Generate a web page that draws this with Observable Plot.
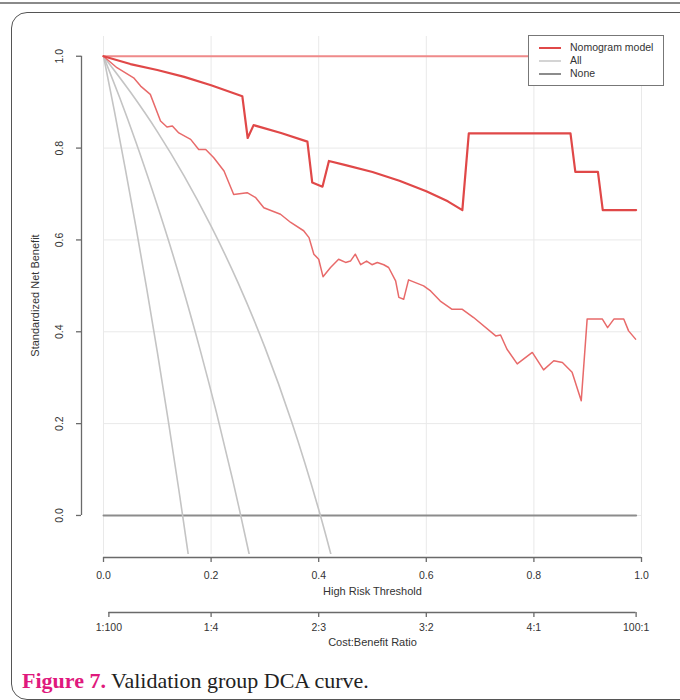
<!DOCTYPE html>
<html>
<head>
<meta charset="utf-8">
<script src="https://cdn.jsdelivr.net/npm/d3@7"></script>
<script src="https://cdn.jsdelivr.net/npm/@observablehq/plot@0.6"></script>
<style>
  html, body { margin: 0; padding: 0; background: #fff; width: 680px; height: 700px; overflow: hidden; }
  #page { position: relative; width: 680px; height: 700px; }
  #topline { position: absolute; left: 0; top: 2px; width: 680px; height: 0; border-top: 2px solid #8a8a8a; }
  #frame { position: absolute; left: 11px; top: 12px; width: 720px; height: 686px; border: 1px solid #555; border-radius: 16px; }
  #chart { position: absolute; left: 0; top: 0; }
  #legend { position: absolute; left: 528px; top: 35px; width: 134px; height: 49px; border: 1px solid #777; background: #fff;
            font-family: "Liberation Sans", Arial, sans-serif; font-size: 10.5px; color: #333; }
  .lg-row { position: absolute; left: 0; height: 12px; }
  .lg-line { position: absolute; left: 10px; top: 6px; width: 22px; height: 0; }
  .lg-text { position: absolute; left: 41px; top: 0px; white-space: nowrap; }
  #caption { position: absolute; left: 22px; top: 668px; font-family: "Liberation Serif", "Times New Roman", serif; font-size: 22px; color: #222; white-space: nowrap; }
  #caption b { color: #e0197d; }
</style>
</head>
<body>
<div id="page">
  <div id="topline"></div>
  <div id="frame"></div>
  <div id="chart"></div>
  <div id="legend"></div>
  <div id="caption"><b>Figure 7.</b> Validation group DCA curve.</div>
</div>
<script>
// ---- data ----
const xTicks = [0, 0.2, 0.4, 0.6, 0.8, 1.0];
const yTicks = [0, 0.2, 0.4, 0.6, 0.8, 1.0];
const cbTicks = [0.01, 0.2, 0.4, 0.6, 0.8, 0.99];
const cbLabels = ["1:100", "1:4", "2:3", "3:2", "4:1", "100:1"];

// Nomogram model (estimate)
const modelT = [0, 0.05, 0.10, 0.15, 0.20, 0.258, 0.268, 0.279, 0.33, 0.379, 0.388, 0.407, 0.419, 0.45, 0.50, 0.55, 0.60, 0.64, 0.667, 0.679, 0.868, 0.877, 0.919, 0.928, 0.99];
const modelV = [1.0, 0.983, 0.970, 0.955, 0.937, 0.913, 0.822, 0.850, 0.833, 0.814, 0.725, 0.716, 0.772, 0.763, 0.748, 0.729, 0.706, 0.684, 0.665, 0.832, 0.832, 0.748, 0.748, 0.665, 0.665];

// Nomogram model lower confidence bound
const lowerT = [0, 0.025, 0.056, 0.069, 0.087, 0.106, 0.118, 0.128, 0.140, 0.162, 0.177, 0.190, 0.205, 0.224, 0.242, 0.267, 0.283, 0.298, 0.329, 0.348, 0.372, 0.382, 0.391, 0.400, 0.408, 0.422, 0.437, 0.450, 0.459, 0.468, 0.478, 0.489, 0.499, 0.509, 0.521, 0.530, 0.543, 0.549, 0.558, 0.567, 0.595, 0.608, 0.626, 0.648, 0.667, 0.688, 0.729, 0.738, 0.750, 0.769, 0.797, 0.818, 0.837, 0.853, 0.871, 0.888, 0.899, 0.927, 0.937, 0.949, 0.967, 0.976, 0.989];
const lowerV = [1.0, 0.975, 0.953, 0.935, 0.917, 0.859, 0.846, 0.848, 0.833, 0.819, 0.797, 0.797, 0.779, 0.750, 0.699, 0.703, 0.692, 0.670, 0.656, 0.638, 0.620, 0.605, 0.569, 0.558, 0.520, 0.540, 0.558, 0.551, 0.554, 0.569, 0.546, 0.554, 0.546, 0.551, 0.546, 0.540, 0.511, 0.475, 0.471, 0.513, 0.500, 0.489, 0.467, 0.449, 0.449, 0.431, 0.391, 0.393, 0.362, 0.330, 0.355, 0.317, 0.337, 0.333, 0.312, 0.250, 0.428, 0.428, 0.409, 0.428, 0.428, 0.402, 0.384];

// Nomogram model upper confidence bound
const upperT = [0, 0.99];
const upperV = [1.0, 1.0];

// "All" (estimate and its two bounds)
const allAT = [0, 0.02, 0.04, 0.06, 0.08, 0.10, 0.12, 0.14, 0.16];
const allAV = [1.0, 0.882, 0.758, 0.630, 0.496, 0.356, 0.209, 0.056, -0.105];
const allBT = [0, 0.03, 0.06, 0.09, 0.12, 0.15, 0.18, 0.21, 0.24, 0.27, 0.29];
const allBV = [1.0, 0.910, 0.814, 0.711, 0.602, 0.485, 0.359, 0.224, 0.078, -0.080, -0.193];
const allCT = [0, 0.05, 0.10, 0.15, 0.20, 0.25, 0.30, 0.35, 0.40, 0.44];
const allCV = [1.0, 0.922, 0.836, 0.739, 0.630, 0.507, 0.366, 0.203, 0.013, -0.163];

// "None"
const noneT = [0, 0.99];
const noneV = [0, 0];

const legendNames = ["Nomogram model", "All", "None"];
const legendColors = ["#e04848", "#d4d4d4", "#8c8c8c"];

const yMin = -0.085, yMax = 1.043;

const zip = (t, v) => t.map((d, i) => ({t: d, v: v[i]}));

const font = "Liberation Sans, Arial, sans-serif";
const ink = "#333";
const axisStroke = "#6a6a6a";

const chart = Plot.plot({
  width: 680,
  height: 660,
  marginLeft: 103,
  marginRight: 39,
  marginTop: 36,
  marginBottom: 106,
  style: {fontFamily: font, fontSize: "10px", color: ink, background: "transparent"},
  x: {domain: [0, 1], axis: null},
  y: {domain: [yMin, yMax], axis: null},
  marks: [
    Plot.gridX(xTicks, {stroke: "#e9e9e9", strokeOpacity: 1, strokeWidth: 1}),
    Plot.gridY(yTicks, {stroke: "#e9e9e9", strokeOpacity: 1, strokeWidth: 1}),
    // None
    Plot.line(zip(noneT, noneV), {x: "t", y: "v", stroke: legendColors[2], strokeWidth: 2}),
    // All curves
    Plot.line(zip(allAT, allAV), {x: "t", y: "v", stroke: "#c4c4c4", strokeWidth: 1.6, curve: "catmull-rom", clip: true}),
    Plot.line(zip(allBT, allBV), {x: "t", y: "v", stroke: "#c4c4c4", strokeWidth: 1.6, curve: "catmull-rom", clip: true}),
    Plot.line(zip(allCT, allCV), {x: "t", y: "v", stroke: "#c4c4c4", strokeWidth: 1.6, curve: "catmull-rom", clip: true}),
    // Model curves
    Plot.line(zip(upperT, upperV), {x: "t", y: "v", stroke: "#ef8a8a", strokeWidth: 2}),
    Plot.line(zip(lowerT, lowerV), {x: "t", y: "v", stroke: "#e86a6a", strokeWidth: 1.5}),
    Plot.line(zip(modelT, modelV), {x: "t", y: "v", stroke: legendColors[0], strokeWidth: 2.2}),
    // Y axis
    Plot.ruleX([0], {y1: 0, y2: 1, dx: -22, stroke: axisStroke, strokeWidth: 1.3}),
    Plot.axisY({ticks: yTicks, tickSize: 5, tickFormat: () => "", dx: -22, label: null, stroke: axisStroke, strokeWidth: 1.3}),
    Plot.text(yTicks, {x: 0, y: d => d, text: d => d.toFixed(1), rotate: -90, dx: -44, fontSize: 10.5, fill: ink}),
    Plot.text(["Standardized Net Benefit"], {frameAnchor: "left", textAnchor: "middle", rotate: -90, dx: -68, fontSize: 11, fill: ink}),
    // X axis (threshold)
    Plot.ruleY([yMin], {x1: 0, x2: 1, dy: 3, stroke: axisStroke, strokeWidth: 1.3}),
    Plot.axisX({ticks: xTicks, tickSize: 5, tickFormat: () => "", dy: 3, label: null, stroke: axisStroke, strokeWidth: 1.3}),
    Plot.text(xTicks, {x: d => d, frameAnchor: "bottom", dy: 24, text: d => d.toFixed(1), fontSize: 10.5, fill: ink}),
    Plot.text(["High Risk Threshold"], {frameAnchor: "bottom", dy: 40, fontSize: 11, fill: ink}),
    // Cost:Benefit axis
    Plot.ruleY([yMin], {x1: cbTicks[0], x2: cbTicks[cbTicks.length - 1], dy: 58, stroke: axisStroke, strokeWidth: 1.3}),
    Plot.axisX({ticks: cbTicks, tickSize: 5, tickFormat: () => "", dy: 58, label: null, stroke: axisStroke, strokeWidth: 1.3}),
    Plot.text(cbTicks, {x: d => d, frameAnchor: "bottom", dy: 76, text: cbLabels, fontSize: 10.5, fill: ink}),
    Plot.text(["Cost:Benefit Ratio"], {frameAnchor: "bottom", dy: 91, fontSize: 11, fill: ink})
  ]
});
document.getElementById("chart").appendChild(chart);

// legend
const lg = document.getElementById("legend");
legendNames.forEach((name, i) => {
  const row = document.createElement("div");
  row.className = "lg-row";
  row.style.top = (5 + i * 13) + "px";
  row.style.width = "100%";
  const ln = document.createElement("div");
  ln.className = "lg-line";
  ln.style.borderTop = "2px solid " + legendColors[i];
  const tx = document.createElement("div");
  tx.className = "lg-text";
  tx.textContent = name;
  row.appendChild(ln);
  row.appendChild(tx);
  lg.appendChild(row);
});
</script>
</body>
</html>
